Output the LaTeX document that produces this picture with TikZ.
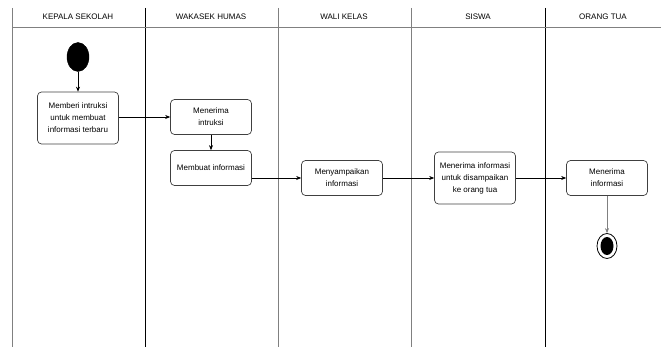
\documentclass[tikz,border=0pt]{standalone}
\usepackage{fontspec}
\setmainfont{Liberation Sans}
\usetikzlibrary{arrows.meta,positioning,shapes.geometric}

\begin{document}
\begin{tikzpicture}[x=1pt, y=-1pt,
    act/.style={draw=black!75, line width=0.7pt, rounded corners=4pt, minimum width=81pt, align=center, font=\fontsize{8}{12}\selectfont, inner sep=1pt},
    lane/.style={line width=0.6pt},
    head/.style={font=\fontsize{8}{9}\selectfont},
    flow/.style={-{Stealth[length=5pt,width=4pt]}, line width=0.6pt}]
    \useasboundingbox (0,0) rectangle (661,347);

    % swimlanes
    \draw[lane, gray] (12,8) -- (12,347);
    \draw[lane] (145,8) -- (145,347);
    \draw[lane, gray] (278,8) -- (278,347);
    \draw[lane, gray] (411,8) -- (411,347);
    \draw[lane] (545,8) -- (545,347);
    \draw[lane, gray] (12,27) -- (661,27);

    \node[head] (hks) at (78,17) {KEPALA SEKOLAH};
    \node[head] (hwh) at (211,17) {WAKASEK HUMAS};
    \node[head] (hwk) at (344,17) {WALI KELAS};
    \node[head] (hs) at (478,17) {SISWA};
    \node[head] (hot) at (603,17) {ORANG TUA};

    % activities
    \node[draw, fill=black, ellipse, minimum width=22pt, minimum height=29pt, inner sep=0pt] (start) at (78,57) {};
    \node[act, minimum height=52pt] (beri) at (78,118) {Memberi intruksi\\untuk membuat\\informasi terbaru};
    \node[act, minimum height=35pt] (terima) at (211,117) {Menerima\\intruksi};
    \node[act, minimum height=35pt] (buat) at (211,168) {Membuat informasi};
    \node[act, minimum height=35pt] (sampai) at (342,178) {Menyampaikan\\informasi};
    \node[act, minimum height=52pt] (siswa) at (475,178) {Menerima informasi\\untuk disampaikan\\ke orang tua};
    \node[act, minimum height=35pt] (ortu) at (607,178) {Menerima\\informasi};
    \node[draw, ellipse, line width=0.8pt, minimum width=20pt, minimum height=25pt, inner sep=0pt] (end) at (607,246) {};
    \node[fill=black, ellipse, minimum width=13pt, minimum height=18pt, inner sep=0pt] (endin) at (607,246) {};

    \draw[flow] (start) -- (beri);
    \draw[flow] (beri.east |- terima) -- (terima);
    \draw[flow] (terima) -- (buat);
    \draw[flow] (buat.east |- sampai) -- (sampai);
    \draw[flow] (sampai) -- (siswa);
    \draw[flow] (siswa) -- (ortu);
    \draw[flow, gray] (ortu) -- (end);
\end{tikzpicture}
\end{document}
